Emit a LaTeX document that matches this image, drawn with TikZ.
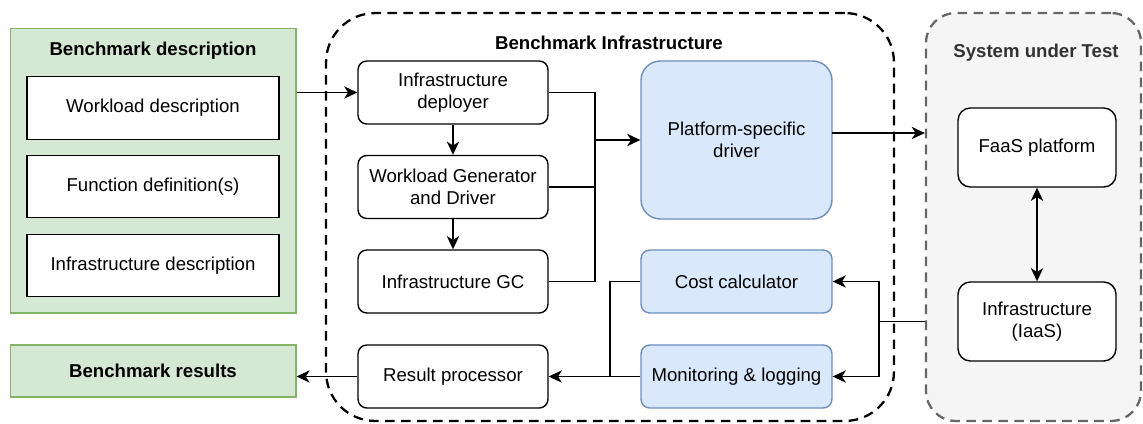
\documentclass[tikz,border=0pt]{standalone}
\usepackage{fontspec}
\setmainfont{Liberation Sans}
\usetikzlibrary{arrows.meta}
\definecolor{descfill}{HTML}{D5E8D4}
\definecolor{descline}{HTML}{82B366}
\definecolor{drvfill}{HTML}{DAE8FC}
\definecolor{drvline}{HTML}{6C8EBF}
\definecolor{sutfill}{HTML}{F5F5F5}
\definecolor{sutline}{HTML}{666666}

\begin{document}
\begin{tikzpicture}[x=0.02cm, y=-0.02cm, line width=0.8pt,
			font=\fontsize{10.6}{12.6}\selectfont,
			>={Stealth[length=7.5pt, width=7pt, inset=2.2pt]},
			group/.style={draw=descline, fill=descfill, line width=0.6pt, inner sep=0pt},
			item/.style={draw, fill=white, inner sep=0pt, minimum width=5.04cm, minimum height=1.25cm},
			comp/.style={draw, rounded corners=5pt, fill=white, align=center, inner sep=0pt,
				minimum width=3.8cm, minimum height=1.26cm},
			blue/.style={comp, draw=drvline, fill=drvfill, minimum width=3.82cm},
			sutbox/.style={comp, minimum width=3.16cm, minimum height=1.58cm, rounded corners=7pt},
			title/.style={font=\fontsize{10.6}{12.6}\selectfont\bfseries}]
			\useasboundingbox (0,0) rectangle (1143,423);
			
			\node[draw, dash pattern=on 5.5pt off 3.6pt, line width=1.3pt, rounded corners=28pt,
				minimum width=11.36cm, minimum height=8.16cm, inner sep=0pt] (infra) at (610, 217) {};
			\node[draw=sutline, fill=sutfill, dash pattern=on 5.5pt off 3.6pt, line width=1.3pt,
				rounded corners=17pt, minimum width=4.3cm, minimum height=8.16cm, inner sep=0pt] (sut) at (1033.5, 217) {};
			
			\node[group, minimum width=5.72cm, minimum height=5.7cm] (desc) at (153, 170.5) {};
			\node[title] (desctitle) at (153, 51) {Benchmark description};
			\node[item] (wdesc) at (153, 108) {Workload description};
			\node[item] (fdef) at (153, 186.5) {Function definition(s)};
			\node[item] (idesc) at (153, 265.5) {Infrastructure description};
			\node[group, title, minimum width=5.72cm, minimum height=1.04cm] (results) at (153, 371) {Benchmark results};
			
			\node[title] (infratitle) at (609, 43) {Benchmark Infrastructure};
			\node[comp] (deploy) at (453, 92.5) {Infrastructure\\deployer};
			\node[comp] (wgen) at (453, 187) {Workload Generator\\and Driver};
			\node[comp] (gc) at (453, 281.5) {Infrastructure GC};
			\node[comp] (resproc) at (453, 376.5) {Result processor};
			\node[blue, minimum height=3.16cm, rounded corners=11pt] (driver) at (736.5, 140) {Platform-specific\\driver};
			\node[blue] (cost) at (736.5, 281.5) {Cost calculator};
			\node[blue] (mon) at (736.5, 376.5) {Monitoring \& logging};
			
			\node[title, text=black!80] (suttitle) at (1036, 53) {System under Test};
			\node[sutbox] (faas) at (1037, 147.5) {FaaS platform};
			\node[sutbox] (iaas) at (1037, 321.5) {Infrastructure\\(IaaS)};
			
			\coordinate (jn) at (595, 140);
			\coordinate (drvout) at (832, 133);
			\coordinate (jr) at (879, 321.5);
			\coordinate (jl) at (610, 376.5);
			
			\path[->] 	(desc.east |- deploy)  edge   (deploy.west);
			\path[->] 	(deploy)  edge   (wgen);
			\path[->] 	(wgen)  edge   (gc);
			\draw 		(deploy.east) -| (jn);
			\draw 		(gc.east) -| (jn);
			\draw 		(wgen.east) -- (wgen.east -| jn);
			\path[->] 	(jn)  edge   (driver.west);
			\path[->] 	(drvout)  edge   (drvout -| sut.west);
			\draw 		(iaas -| sut.west) -- (jr);
			\draw[->] 	(jr) |- (cost.east);
			\draw[->] 	(jr) |- (mon.east);
			\draw 		(cost.west) -| (jl);
			\path[->] 	(mon.west)  edge   (resproc.east);
			\path[->] 	(resproc.west)  edge   (resproc.west -| results.east);
			\path[<->] 	(faas)  edge   (iaas);
			\end{tikzpicture}
\end{document}
